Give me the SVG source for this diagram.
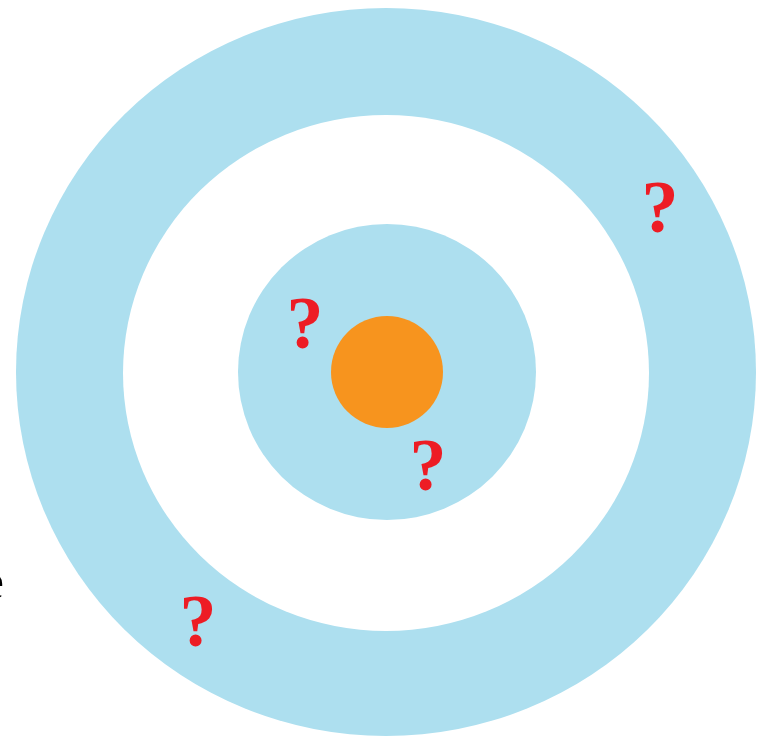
<svg xmlns="http://www.w3.org/2000/svg" width="765" height="736" viewBox="0 0 765 736">
<style>
.blue{fill:#ADDFEF}
.q{font-family:"Liberation Serif","Times New Roman",serif;font-weight:bold;font-size:74px;fill:#ED1C24;text-anchor:middle}
.t{font-family:"Liberation Serif","Times New Roman",serif;font-size:50px;fill:#000;text-anchor:end}
</style>
<rect width="765" height="736" fill="#FFFFFF"/>
<g id="outer-ring"><ellipse class="blue" cx="386" cy="372" rx="370" ry="364"/></g>
<g id="white-ring"><ellipse cx="386" cy="373" rx="263" ry="258" fill="#FFFFFF"/></g>
<g id="inner-circle"><ellipse class="blue" cx="387" cy="372" rx="149" ry="148"/></g>
<g id="nucleus"><circle cx="387" cy="372" r="56" fill="#F7941E"/></g>
<g id="marks">
<text class="q" x="660" y="232">?</text>
<text class="q" x="305" y="348">?</text>
<text class="q" x="428" y="490">?</text>
<text class="q" x="198" y="646">?</text>
</g>
<text class="t" x="4" y="598">e</text>
</svg>
